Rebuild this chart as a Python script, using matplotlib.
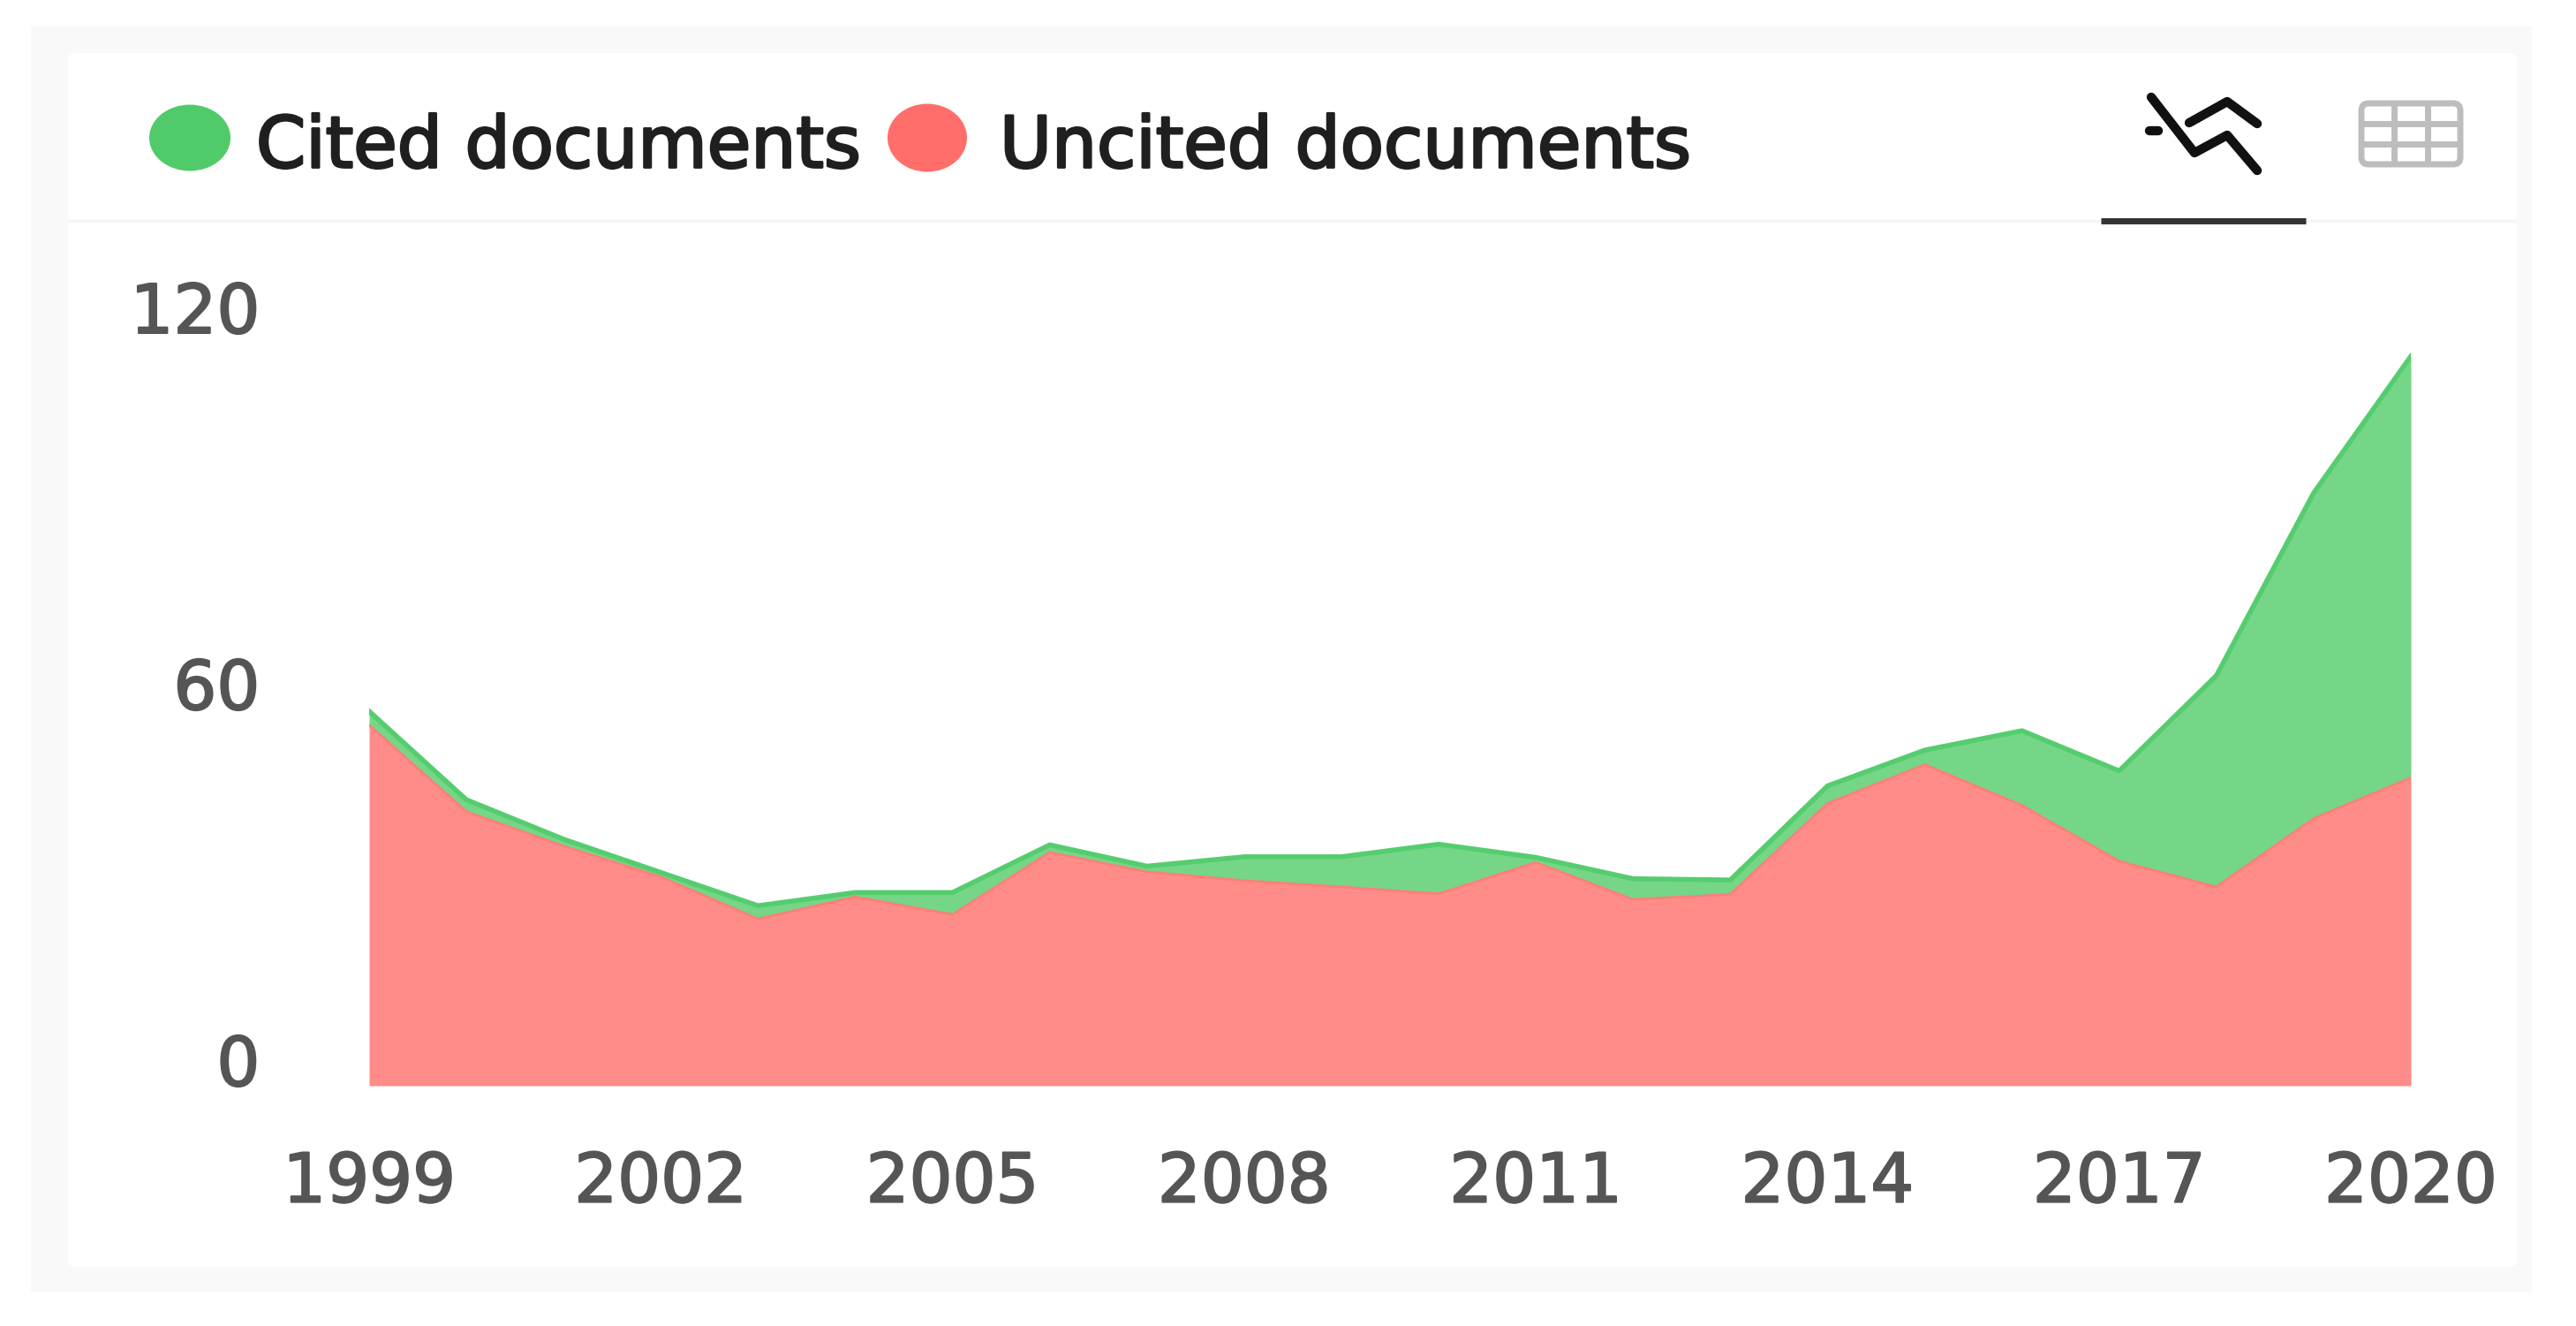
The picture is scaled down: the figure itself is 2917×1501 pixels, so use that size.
import numpy as np
import matplotlib
matplotlib.use('Agg')
import matplotlib.pyplot as plt
import matplotlib.patheffects as pe
from matplotlib.patches import Ellipse, FancyBboxPatch, Rectangle

W, H = 2917, 1501

# values
years = np.arange(1999, 2021)
uncited = [57.5, 43.7, 38.2, 33.3, 26.6, 30.1, 27.3, 37.2, 34.1, 32.7, 31.7,
           30.6, 35.6, 29.7, 30.5, 45.0, 51.2, 44.7, 35.8, 31.7, 42.6, 49.1]
cited = [2.2, 1.9, 1.1, 0.7, 2.1, 0.7, 3.5, 1.2, 0.9, 3.8, 4.8,
         7.9, 0.8, 3.3, 2.3, 2.8, 2.3, 11.9, 14.4, 33.7, 51.9, 67.2]
x_ticks = [1999, 2002, 2005, 2008, 2011, 2014, 2017, 2020]
y_ticks = [0, 60, 120]
legend_names = ['Cited documents', 'Uncited documents']

plt.rcParams['font.family'] = 'DejaVu Sans'
fig = plt.figure(figsize=(W / 100, H / 100), dpi=100, facecolor='white')

# background layer in pixel coordinates: card, legend and icons
bg = fig.add_axes([0, 0, 1, 1])
bg.set_xlim(0, W)
bg.set_ylim(H, 0)
bg.axis('off')
bg.add_patch(Rectangle((35, 30), 2832, 1433, fc='#f9f9f9', ec='none'))
bg.add_patch(FancyBboxPatch((77, 60), 2773, 1374, boxstyle='round,pad=0,rounding_size=8',
                            fc='white', ec='none'))
bg.plot([77, 2850], [250, 250], color='#f6f6f6', lw=2.5)
bg.plot([2379, 2611], [250, 250], color='#333333', lw=5, solid_capstyle='butt')

# legend, the stroke gives the heavier weight of the original text
heavy = [pe.withStroke(linewidth=2, foreground='#1f1f1f')]
bg.add_patch(Ellipse((215, 156), 92, 75, fc='#51cb6a', ec='none'))
bg.text(290, 159, legend_names[0], fontsize=58, color='#1f1f1f', va='center_baseline', ha='left',
        path_effects=heavy)
bg.add_patch(Ellipse((1050, 156), 90, 77, fc='#ff6e6a', ec='none'))
bg.text(1132, 159, legend_names[1], fontsize=58, color='#1f1f1f', va='center_baseline', ha='left',
        path_effects=heavy)

# line chart icon
icon = dict(color='#111111', lw=7.5, solid_capstyle='round', solid_joinstyle='round')
bg.plot([2436, 2485, 2522, 2556], [110, 173, 153, 193], **icon)
bg.plot([2479, 2522, 2556], [139, 115, 140], **icon)
bg.plot([2434, 2444], [148, 148], **icon)

# table icon
bg.add_patch(FancyBboxPatch((2674, 117), 112, 69, boxstyle='round,pad=0,rounding_size=8',
                            fc='white', ec='#bdbdbd', lw=5))
for gx in (2711, 2749):
    bg.plot([gx, gx], [117, 186], color='#bdbdbd', lw=5, solid_capstyle='butt')
for gy in (140, 163):
    bg.plot([2674, 2786], [gy, gy], color='#bdbdbd', lw=5, solid_capstyle='butt')

# chart area, 1999..2020 -> 418..2730 px, 0..120 -> 1229..377 px
ax = fig.add_axes([418 / W, 1 - 1229 / H, (2730 - 418) / W, (1229 - 377) / H])
ax.patch.set_alpha(0)
top = np.array(uncited) + np.array(cited)
ax.fill_between(years, uncited, top, color='#75d688', lw=0)
ax.plot(years, top, color='#55cd6e', lw=4)
ax.fill_between(years, 0, uncited, color='#ff8c88', lw=0)
ax.plot(years, uncited, color='#ff7f7a', lw=2)
ax.set_xlim(1999, 2020)
ax.set_ylim(0, 120)
for s in ax.spines.values():
    s.set_visible(False)
ax.set_xticks(x_ticks)
ax.set_yticks(y_ticks)
ax.tick_params(axis='x', length=0, pad=53, labelsize=55.4, labelcolor='#555555')
ax.tick_params(axis='y', length=0, pad=89, labelsize=55.4, labelcolor='#555555')
for label in ax.get_yticklabels():
    label.set_va('baseline')
tick_weight = [pe.withStroke(linewidth=1.5, foreground='#555555')]
for label in ax.get_xticklabels() + ax.get_yticklabels():
    label.set_path_effects(tick_weight)

fig.savefig('out.png', dpi=100)
